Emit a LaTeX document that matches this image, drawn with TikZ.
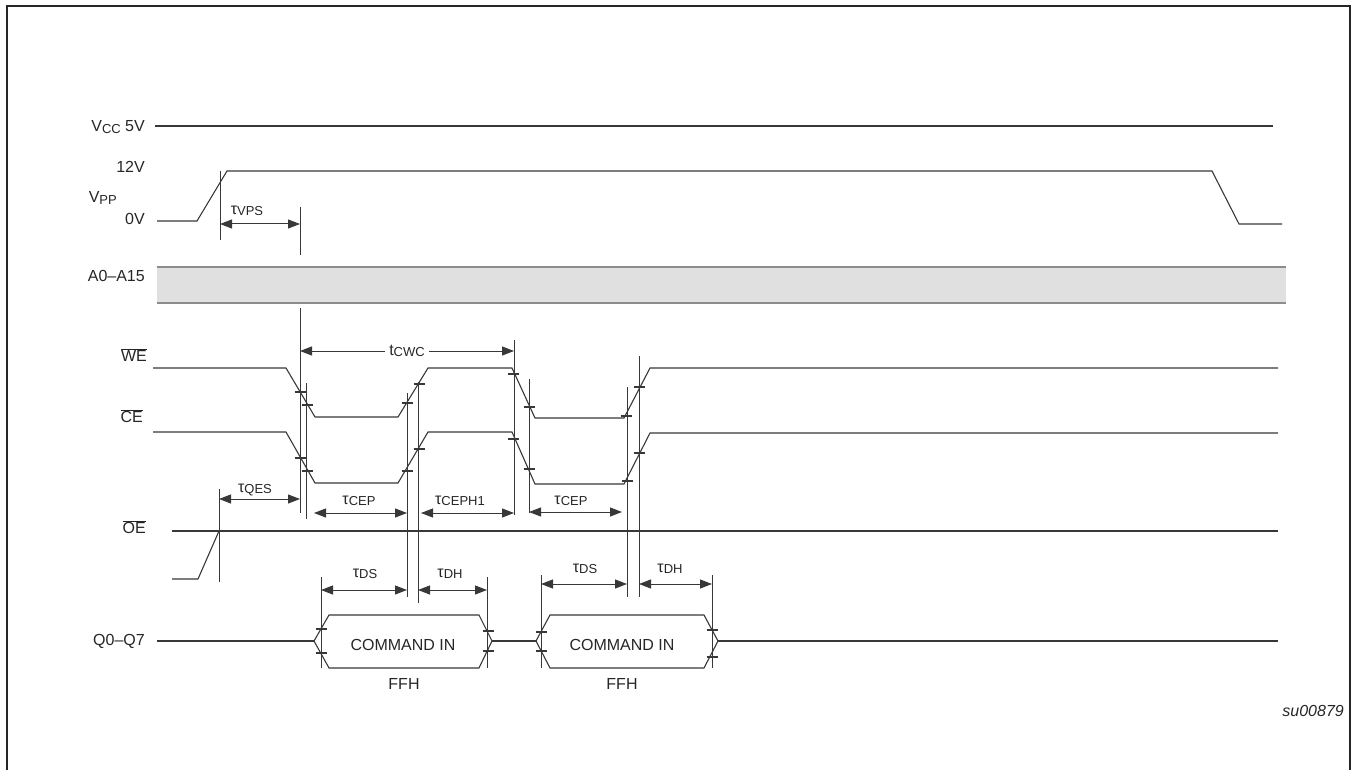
\documentclass[tikz,border=0pt]{standalone}
\usepackage{fontspec}
\setmainfont{Liberation Sans}
\usetikzlibrary{arrows.meta}
\newcommand{\sbs}[1]{\raisebox{-1.5pt}{\fontsize{13}{13}\selectfont #1}}
\newcommand{\ovl}[1]{$\overline{\mbox{#1}}$}
\newcommand{\tk}[2]{\draw[sig] ({#1-5.5},#2) -- ({#1+5.5},#2);}
\begin{document}
\begin{tikzpicture}[x=1pt,y=-1pt,
  sig/.style={line width=1.1pt, draw=black!78},
  vl/.style={line width=1pt, draw=black!78},
  dimarrow/.style={line width=1pt, draw=black!78, {Triangle[length=12pt,width=9pt]}-{Triangle[length=12pt,width=9pt]}},
  lbl/.style={font=\fontsize{16}{16}\selectfont, inner sep=0pt, text=black!85},
  sl/.style={lbl, anchor=east}]
\useasboundingbox (0,0) rectangle (1353,770);
% frame
\draw[line width=2.2pt, black!85] (7,770) -- (7,6) -- (1350,6) -- (1350,770);

% signal labels
\node[sl] (lvcc) at (145,127) {V\sbs{CC} 5V};
\node[sl] (l12) at (145,167) {12V};
\node[sl] (lvpp) at (117,198) {V\sbs{PP}};
\node[sl] (l0) at (145,219) {0V};
\node[sl] (la) at (145,276) {A0--A15};
\node[sl] (lwe) at (147,355) {\ovl{WE}};
\node[sl] (lce) at (143,416) {\ovl{CE}};
\node[sl] (loe) at (146,527) {\ovl{OE}};
\node[sl] (lq) at (145,641) {Q0--Q7};

% VCC
\draw[sig] (155,126) -- (1273,126);
% VPP
\draw[sig] (157,221) -- (197,221) -- (227,171) -- (1212,171) -- (1239,224) -- (1282,224);
% A0-A15
\fill[black!12] (157,267) rectangle (1286,303);
\draw[line width=1.5pt, black!45] (157,267) -- (1286,267) (157,303) -- (1286,303);
% WE
\draw[sig] (153,368) -- (286,368) -- (315,417) -- (398,417) -- (428,368) -- (512,368) -- (535,418) -- (624,418) -- (650,368) -- (1278,368);
% CE
\draw[sig] (153,432) -- (286,432) -- (315,483) -- (398,483) -- (428,432) -- (512,432) -- (535,484) -- (624,484) -- (650,433) -- (1278,433);
% OE
\draw[sig] (172,579) -- (198,579) -- (219,531);
\draw[sig] (172,531) -- (1278,531);
% Q0-Q7
\draw[sig] (157,641) -- (314,641);
\draw[sig] (314,641) -- (329,615) -- (479,615) -- (492,641) -- (479,668) -- (329,668) -- cycle;
\draw[sig] (492,641) -- (536,641);
\draw[sig] (536,641) -- (550,615) -- (704,615) -- (718,641) -- (704,668) -- (550,668) -- cycle;
\draw[sig] (718,641) -- (1278,641);
\node[lbl] (cmd1) at (403,645) {COMMAND IN};
\node[lbl] (cmd2) at (622,645) {COMMAND IN};
\node[lbl] (ffh1) at (404,684) {FFH};
\node[lbl] (ffh2) at (622,684) {FFH};

% vertical reference lines
\draw[vl] (220,171) -- (220,240);
\draw[vl] (300,207) -- (300,255);
\draw[vl] (300,308) -- (300,513);
\draw[vl] (306,383) -- (306,519);
\draw[vl] (407,393) -- (407,597);
\draw[vl] (418,382) -- (418,603);
\draw[vl] (514,340) -- (514,515);
\draw[vl] (529,379) -- (529,513);
\draw[vl] (627,387) -- (627,597);
\draw[vl] (639,356) -- (639,597);
\draw[vl] (219,489) -- (219,582);
\draw[vl] (321,577) -- (321,668);
\draw[vl] (487,577) -- (487,668);
\draw[vl] (541,575) -- (541,668);
\draw[vl] (712,575) -- (712,668);

% ticks
\tk{300}{392} \tk{307}{405} \tk{300}{458} \tk{307}{471}
\tk{407}{403} \tk{419}{384} \tk{407}{471} \tk{419}{449}
\tk{513}{374} \tk{529}{407} \tk{513}{439} \tk{529}{469}
\tk{626}{416} \tk{639}{387} \tk{627}{481} \tk{639}{453}
\tk{321}{629} \tk{321}{653} \tk{488}{631} \tk{488}{651}
\tk{541}{632} \tk{541}{651} \tk{712}{630} \tk{712}{657}

% timing arrows
\draw[dimarrow] (220,224) -- (300,224);
\draw[dimarrow] (300,351) -- (514,351);
\draw[dimarrow] (219,499) -- (300,499);
\draw[dimarrow] (314,513) -- (407,513);
\draw[dimarrow] (421,513) -- (514,513);
\draw[dimarrow] (529,512) -- (622,512);
\draw[dimarrow] (321,590) -- (407,590);
\draw[dimarrow] (418,590) -- (487,590);
\draw[dimarrow] (541,584) -- (627,584);
\draw[dimarrow] (639,584) -- (712,584);

% timing labels
\node[lbl] (tvps) at (247,211) {τ\sbs{VPS}};
\node[lbl, fill=white, inner xsep=4pt, inner ysep=2pt] (tcwc) at (407,351) {t\sbs{CWC}};
\node[lbl] (tqes) at (255,490) {τ\sbs{QES}};
\node[lbl] (tcep1) at (359,501) {τ\sbs{CEP}};
\node[lbl] (tceph) at (460,501) {τ\sbs{CEPH1}};
\node[lbl] (tcep2) at (571,501) {τ\sbs{CEP}};
\node[lbl] (tds1) at (365,574) {τ\sbs{DS}};
\node[lbl] (tdh1) at (450,574) {τ\sbs{DH}};
\node[lbl] (tds2) at (585,569) {τ\sbs{DS}};
\node[lbl] (tdh2) at (670,569) {τ\sbs{DH}};

% figure id
\node[lbl, anchor=east, font=\fontsize{16}{16}\selectfont\itshape] (fid) at (1344,711) {su00879};
\end{tikzpicture}
\end{document}
